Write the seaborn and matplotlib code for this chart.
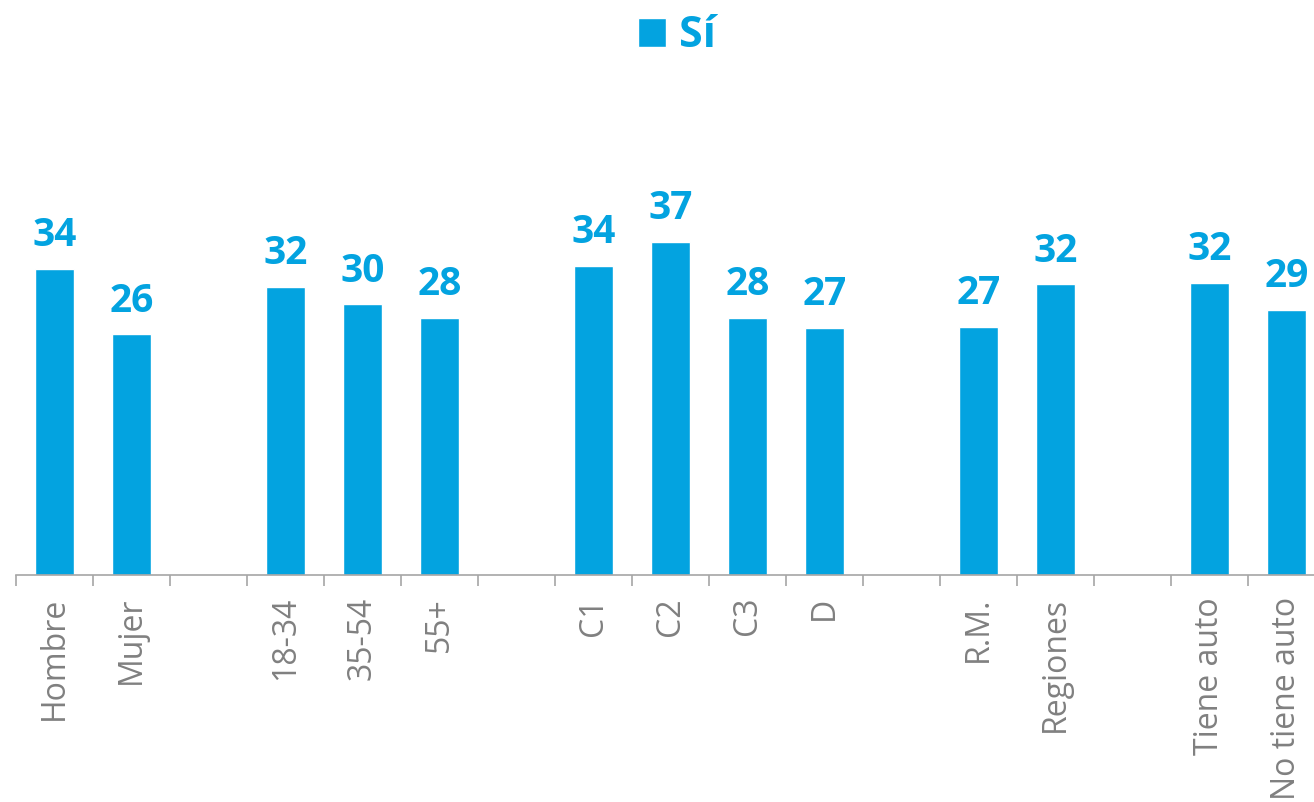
import numpy as np
import pandas as pd
import seaborn as sns
import matplotlib.pyplot as plt

# categories in order, blank slots separate the groups
slots = ["Hombre", "Mujer", " ", "18-34", "35-54", "55+", "  ",
         "C1", "C2", "C3", "D", "   ", "R.M.", "Regiones", "    ",
         "Tiene auto", "No tiene auto"]
categories = ["Hombre", "Mujer", "18-34", "35-54", "55+",
              "C1", "C2", "C3", "D", "R.M.", "Regiones",
              "Tiene auto", "No tiene auto"]
# bar heights (labels show them rounded)
values = [33.6, 26.4, 31.6, 29.7, 28.2, 33.9, 36.6, 28.2, 27.1, 27.2,
          31.9, 32.1, 29.1]

blue = "#03A3E0"
grey = "#808080"

df = pd.DataFrame({"cat": categories, "val": values})

sns.set_style("white")
plt.rcParams["font.family"] = ["Open Sans", "DejaVu Sans"]

fig = plt.figure(figsize=(13.14, 8.02), dpi=100)
ax = fig.add_axes([16 / 1314, 227.3 / 802, 1309 / 1314, 455 / 802])

sns.barplot(data=df, x="cat", y="val", order=slots, color=blue,
            width=0.51, saturation=1, label="Sí", ax=ax)
ax.get_legend().remove()

for c in ax.containers:
    ax.bar_label(c, fmt="%.0f", padding=10, fontsize=28, fontweight="bold",
                 color=blue)

ax.set_ylim(0, 50)
ax.set_xlim(-0.5, len(slots) - 0.5)
ax.set_xlabel("")
ax.set_ylabel("")
ax.set_yticks([])
for s in ["top", "right", "left"]:
    ax.spines[s].set_visible(False)
ax.spines["bottom"].set_color("#A6A6A6")
ax.spines["bottom"].set_linewidth(1.2)

ax.set_xticks(np.arange(len(slots)))
ax.set_xticklabels(slots, rotation=90, fontsize=23, color=grey)
ax.tick_params(axis="x", which="major", bottom=True, length=0, pad=16)
ax.set_xticks(np.arange(len(slots) + 1) - 0.5, minor=True)
ax.tick_params(axis="x", which="minor", bottom=True, length=8, width=1.2,
               color="#A6A6A6")

handles, labels = ax.get_legend_handles_labels()
leg = fig.legend(handles[:1], labels[:1], loc="upper center",
                 bbox_to_anchor=(0.515, 1.009), frameon=False,
                 fontsize=31, handlelength=0.65, handleheight=0.65,
                 handletextpad=0.3, borderaxespad=0.1)
for t in leg.get_texts():
    t.set_color(blue)
    t.set_fontweight("bold")

fig.savefig("out.png", dpi=100)
